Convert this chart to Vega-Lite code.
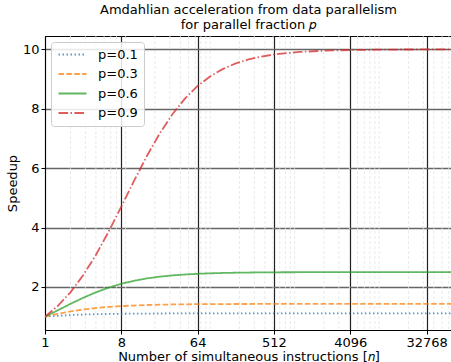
{
  "$schema": "https://vega.github.io/schema/vega-lite/v6.json",
  "width": 407,
  "height": 294,
  "autosize": {"type": "none"},
  "padding": {"left": 45, "top": 36, "right": 0, "bottom": 32},
  "background": "white",
  "title": {
    "text": ["Amdahlian acceleration from data parallelism", "for parallel fraction 𝑝"],
    "font": "DejaVu Sans",
    "fontSize": 13,
    "fontWeight": "normal",
    "color": "black",
    "lineHeight": 15,
    "offset": 4,
    "anchor": "middle"
  },
  "config": {
    "view": {"stroke": "black", "strokeWidth": 1},
    "axis": {
      "labelFont": "DejaVu Sans",
      "titleFont": "DejaVu Sans",
      "labelFontSize": 13,
      "titleFontSize": 13,
      "titleFontWeight": "normal",
      "labelColor": "black",
      "titleColor": "black",
      "tickColor": "black",
      "domainColor": "black",
      "tickSize": 4,
      "labelPadding": 2
    }
  },
  "datasets": {
    "minor": [
      {"n": 2}, {"n": 3}, {"n": 4}, {"n": 5}, {"n": 6}, {"n": 7}, {"n": 9},
      {"n": 20}, {"n": 30}, {"n": 40}, {"n": 50}, {"n": 60}, {"n": 70}, {"n": 80}, {"n": 90},
      {"n": 200}, {"n": 300}, {"n": 400}, {"n": 500}, {"n": 600}, {"n": 700}, {"n": 800}, {"n": 900},
      {"n": 2000}, {"n": 3000}, {"n": 4000}, {"n": 5000}, {"n": 6000}, {"n": 7000}, {"n": 8000}, {"n": 9000},
      {"n": 20000}, {"n": 30000}, {"n": 40000}, {"n": 50000}, {"n": 60000}
    ],
    "curves": [
      {"p": "p=0.1", "n": 1, "s": 1}, {"p": "p=0.1", "n": 1.414, "s": 1.030}, {"p": "p=0.1", "n": 2, "s": 1.053}, {"p": "p=0.1", "n": 2.828, "s": 1.072}, {"p": "p=0.1", "n": 4, "s": 1.081}, {"p": "p=0.1", "n": 5.657, "s": 1.090}, {"p": "p=0.1", "n": 8, "s": 1.096}, {"p": "p=0.1", "n": 11.31, "s": 1.100}, {"p": "p=0.1", "n": 16, "s": 1.103}, {"p": "p=0.1", "n": 22.63, "s": 1.106}, {"p": "p=0.1", "n": 32, "s": 1.107}, {"p": "p=0.1", "n": 45.25, "s": 1.108}, {"p": "p=0.1", "n": 64, "s": 1.109}, {"p": "p=0.1", "n": 90.51, "s": 1.110}, {"p": "p=0.1", "n": 128, "s": 1.110}, {"p": "p=0.1", "n": 181, "s": 1.110}, {"p": "p=0.1", "n": 256, "s": 1.111}, {"p": "p=0.1", "n": 362, "s": 1.111}, {"p": "p=0.1", "n": 512, "s": 1.111}, {"p": "p=0.1", "n": 1024, "s": 1.111}, {"p": "p=0.1", "n": 2048, "s": 1.111}, {"p": "p=0.1", "n": 4096, "s": 1.111}, {"p": "p=0.1", "n": 8192, "s": 1.111}, {"p": "p=0.1", "n": 16384, "s": 1.111}, {"p": "p=0.1", "n": 32768, "s": 1.111}, {"p": "p=0.1", "n": 65536, "s": 1.111},
      {"p": "p=0.3", "n": 1, "s": 1}, {"p": "p=0.3", "n": 1.414, "s": 1.096}, {"p": "p=0.3", "n": 2, "s": 1.176}, {"p": "p=0.3", "n": 2.828, "s": 1.241}, {"p": "p=0.3", "n": 4, "s": 1.290}, {"p": "p=0.3", "n": 5.657, "s": 1.328}, {"p": "p=0.3", "n": 8, "s": 1.356}, {"p": "p=0.3", "n": 11.31, "s": 1.374}, {"p": "p=0.3", "n": 16, "s": 1.391}, {"p": "p=0.3", "n": 22.63, "s": 1.402}, {"p": "p=0.3", "n": 32, "s": 1.410}, {"p": "p=0.3", "n": 45.25, "s": 1.415}, {"p": "p=0.3", "n": 64, "s": 1.419}, {"p": "p=0.3", "n": 90.51, "s": 1.422}, {"p": "p=0.3", "n": 128, "s": 1.424}, {"p": "p=0.3", "n": 181, "s": 1.425}, {"p": "p=0.3", "n": 256, "s": 1.426}, {"p": "p=0.3", "n": 362, "s": 1.427}, {"p": "p=0.3", "n": 512, "s": 1.427}, {"p": "p=0.3", "n": 1024, "s": 1.428}, {"p": "p=0.3", "n": 2048, "s": 1.428}, {"p": "p=0.3", "n": 4096, "s": 1.4285}, {"p": "p=0.3", "n": 8192, "s": 1.4285}, {"p": "p=0.3", "n": 16384, "s": 1.4286}, {"p": "p=0.3", "n": 32768, "s": 1.4286}, {"p": "p=0.3", "n": 65536, "s": 1.4286},
      {"p": "p=0.6", "n": 1, "s": 1}, {"p": "p=0.6", "n": 1.414, "s": 1.213}, {"p": "p=0.6", "n": 2, "s": 1.429}, {"p": "p=0.6", "n": 2.828, "s": 1.634}, {"p": "p=0.6", "n": 4, "s": 1.818}, {"p": "p=0.6", "n": 5.657, "s": 1.976}, {"p": "p=0.6", "n": 8, "s": 2.105}, {"p": "p=0.6", "n": 11.31, "s": 2.207}, {"p": "p=0.6", "n": 16, "s": 2.286}, {"p": "p=0.6", "n": 22.63, "s": 2.345}, {"p": "p=0.6", "n": 32, "s": 2.388}, {"p": "p=0.6", "n": 45.25, "s": 2.418}, {"p": "p=0.6", "n": 64, "s": 2.443}, {"p": "p=0.6", "n": 90.51, "s": 2.459}, {"p": "p=0.6", "n": 128, "s": 2.471}, {"p": "p=0.6", "n": 181, "s": 2.479}, {"p": "p=0.6", "n": 256, "s": 2.485}, {"p": "p=0.6", "n": 362, "s": 2.490}, {"p": "p=0.6", "n": 512, "s": 2.493}, {"p": "p=0.6", "n": 1024, "s": 2.496}, {"p": "p=0.6", "n": 2048, "s": 2.498}, {"p": "p=0.6", "n": 4096, "s": 2.499}, {"p": "p=0.6", "n": 8192, "s": 2.4995}, {"p": "p=0.6", "n": 16384, "s": 2.4998}, {"p": "p=0.6", "n": 32768, "s": 2.4999}, {"p": "p=0.6", "n": 65536, "s": 2.5},
      {"p": "p=0.9", "n": 1, "s": 1}, {"p": "p=0.9", "n": 1.414, "s": 1.358}, {"p": "p=0.9", "n": 2, "s": 1.818}, {"p": "p=0.9", "n": 2.828, "s": 2.391}, {"p": "p=0.9", "n": 4, "s": 3.077}, {"p": "p=0.9", "n": 5.657, "s": 3.859}, {"p": "p=0.9", "n": 8, "s": 4.706}, {"p": "p=0.9", "n": 11.31, "s": 5.569}, {"p": "p=0.9", "n": 16, "s": 6.4}, {"p": "p=0.9", "n": 22.63, "s": 7.155}, {"p": "p=0.9", "n": 32, "s": 7.805}, {"p": "p=0.9", "n": 45.25, "s": 8.341}, {"p": "p=0.9", "n": 64, "s": 8.767}, {"p": "p=0.9", "n": 90.51, "s": 9.096}, {"p": "p=0.9", "n": 128, "s": 9.343}, {"p": "p=0.9", "n": 181, "s": 9.526}, {"p": "p=0.9", "n": 256, "s": 9.660}, {"p": "p=0.9", "n": 362, "s": 9.757}, {"p": "p=0.9", "n": 512, "s": 9.828}, {"p": "p=0.9", "n": 1024, "s": 9.913}, {"p": "p=0.9", "n": 2048, "s": 9.956}, {"p": "p=0.9", "n": 4096, "s": 9.978}, {"p": "p=0.9", "n": 8192, "s": 9.989}, {"p": "p=0.9", "n": 16384, "s": 9.995}, {"p": "p=0.9", "n": 32768, "s": 9.997}, {"p": "p=0.9", "n": 65536, "s": 9.999}
    ]
  },
  "layer": [
    {
      "data": {"name": "minor"},
      "mark": {"type": "rule", "color": "#e4e4e4", "strokeWidth": 0.8, "strokeDash": [3, 2]},
      "encoding": {
        "x": {
          "field": "n", "type": "quantitative",
          "scale": {"type": "log", "base": 2, "domain": [1, 65536], "nice": false},
          "axis": {
            "title": "Number of simultaneous instructions [𝑛]",
            "values": [1, 8, 64, 512, 4096, 32768],
            "format": "d",
            "grid": true, "gridColor": "#222", "gridWidth": 1.2,
            "titlePadding": 1,
            "labelFlush": false
          }
        }
      }
    },
    {
      "data": {"name": "curves"},
      "mark": {"type": "line", "strokeWidth": 1.8, "opacity": 0.75, "clip": true},
      "encoding": {
        "x": {
          "field": "n", "type": "quantitative",
          "scale": {"type": "log", "base": 2, "domain": [1, 65536], "nice": false},
          "axis": {
            "title": "Number of simultaneous instructions [𝑛]",
            "values": [1, 8, 64, 512, 4096, 32768],
            "format": "d",
            "grid": true, "gridColor": "#222", "gridWidth": 1.2,
            "titlePadding": 1,
            "labelFlush": false
          }
        },
        "y": {
          "field": "s", "type": "quantitative",
          "scale": {"domain": [0.55, 10.45], "nice": false, "zero": false},
          "axis": {
            "title": "Speedup",
            "values": [2, 4, 6, 8, 10],
            "grid": true, "gridColor": "#666", "gridWidth": 1.5,
            "titlePadding": 3
          }
        },
        "color": {
          "field": "p", "type": "nominal",
          "scale": {"domain": ["p=0.1", "p=0.3", "p=0.6", "p=0.9"], "range": ["#1f77b4", "#ff7f0e", "#2ca02c", "#d62728"]},
          "legend": {
            "title": null, "orient": "top-left", "offset": 6, "padding": 6,
            "fillColor": "rgba(255,255,255,0.85)", "strokeColor": "#cccccc", "cornerRadius": 3,
            "labelFont": "DejaVu Sans", "labelFontSize": 13, "labelColor": "black",
            "symbolType": "M-1,0H4.6", "symbolSize": 100, "symbolStrokeWidth": 1.8, "symbolOpacity": 0.75,
            "labelOffset": 28, "rowPadding": 5.5
          }
        },
        "strokeDash": {
          "field": "p", "type": "nominal",
          "scale": {"domain": ["p=0.1", "p=0.3", "p=0.6", "p=0.9"], "range": [[1.5, 2.5], [5.5, 2.4], [1, 0], [9.6, 2.4, 1.5, 2.4]]},
          "legend": {
            "title": null, "orient": "top-left", "offset": 6, "padding": 6,
            "fillColor": "rgba(255,255,255,0.85)", "strokeColor": "#cccccc", "cornerRadius": 3,
            "labelFont": "DejaVu Sans", "labelFontSize": 13, "labelColor": "black",
            "symbolType": "M-1,0H4.6", "symbolSize": 100, "symbolStrokeWidth": 1.8, "symbolOpacity": 0.75,
            "labelOffset": 28, "rowPadding": 5.5
          }
        }
      }
    }
  ]
}
